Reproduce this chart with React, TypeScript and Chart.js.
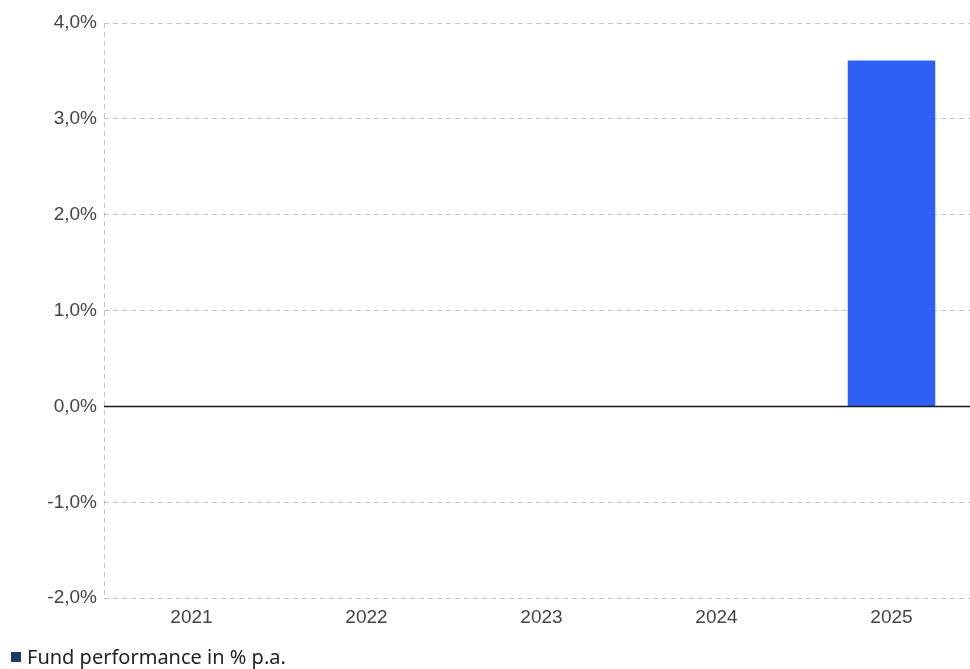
import React, { useEffect, useRef } from "react";
import { Chart, registerables } from "chart.js";

Chart.register(...registerables);

const categories = ["2021", "2022", "2023", "2024", "2025"];
const fundPerformance: (number | null)[] = [null, null, null, null, 3.61];
const seriesLabel = "Fund performance in % p.a.";
const yTicks = [-2, -1, 0, 1, 2, 3, 4];

const zeroLinePlugin = {
  id: "zeroLine",
  afterDatasetsDraw(chart: any) {
    const y = chart.scales.y;
    const area = chart.chartArea;
    const py = y.getPixelForValue(0);
    const ctx = chart.ctx;
    ctx.save();
    ctx.strokeStyle = "#1a1a1a";
    ctx.lineWidth = 1.5;
    ctx.beginPath();
    ctx.moveTo(area.left, py);
    ctx.lineTo(area.right, py);
    ctx.stroke();
    ctx.restore();
  },
};

export default function App() {
  const ref = useRef<HTMLCanvasElement>(null);
  useEffect(() => {
    if (!ref.current) return;
    const chart = new Chart(ref.current, {
      type: "bar",
      data: {
        labels: categories,
        datasets: [
          {
            label: seriesLabel,
            data: fundPerformance,
            backgroundColor: "#2f60f5",
            barPercentage: 0.5,
            categoryPercentage: 1,
          },
        ],
      },
      options: {
        animation: false,
        responsive: false,
        maintainAspectRatio: false,
        layout: { padding: { left: 0, right: 0, top: 23, bottom: 32 } },
        plugins: {
          tooltip: { enabled: false },
          legend: { display: false },
        },
        scales: {
          x: {
            offset: true,
            grid: {
              display: true,
              offset: true,
              drawTicks: false,
              color: (c: any) => (c.index === 0 ? "#c4c4c4" : "rgba(0,0,0,0)"),
            },
            border: { display: false, dash: [5, 4] },
            ticks: {
              color: "#444444",
              font: { family: "'Liberation Sans', Arial, sans-serif", size: 19 },
              padding: 8,
            },
          },
          y: {
            min: -2,
            max: 4,
            afterBuildTicks: (s: any) => {
              s.ticks = yTicks.map((v) => ({ value: v }));
            },
            afterFit: (s: any) => {
              s.width = 104;
            },
            grid: {
              color: "#c4c4c4",
              lineWidth: 1,
              drawTicks: false,
            },
            border: { display: false, dash: [5, 4] },
            ticks: {
              color: "#444444",
              padding: 7,
              font: { family: "'Liberation Sans', Arial, sans-serif", size: 19 },
              callback: (v: any) => Number(v).toFixed(1).replace(".", ",") + "%",
            },
          },
        },
      },
      plugins: [zeroLinePlugin],
    });
    return () => chart.destroy();
  }, []);
  return (
    <div style={{ position: "absolute", left: 0, top: 0, width: 970, height: 669, overflow: "hidden" }}>
      <canvas ref={ref} width={979} height={669} style={{ width: 979, height: 669, display: "block" }} />
      <div
        style={{
          position: "absolute",
          left: 11,
          top: 646,
          height: 22,
          display: "flex",
          alignItems: "center",
          fontFamily: "'Noto Sans', sans-serif",
          fontSize: 20,
          lineHeight: "22px",
          color: "#222222",
          whiteSpace: "nowrap",
        }}
      >
        <span style={{ display: "inline-block", width: 10, height: 10, background: "#1f3a63", marginRight: 6 }} />
        <span>{seriesLabel}</span>
      </div>
    </div>
  );
}
